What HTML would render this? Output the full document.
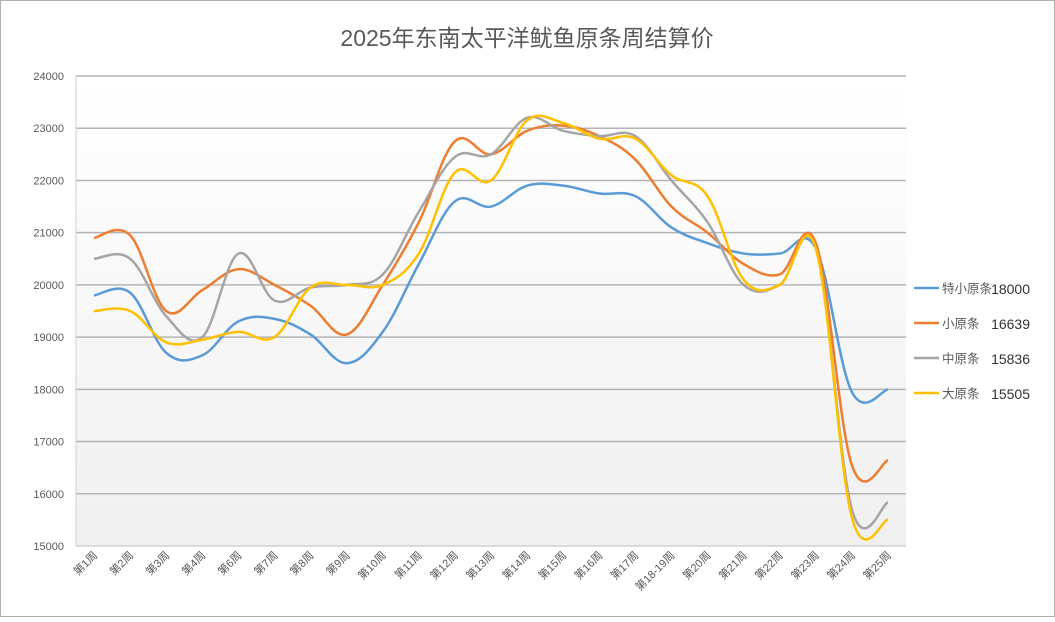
<!DOCTYPE html>
<html><head><meta charset="utf-8"><style>
body{margin:0;background:#fff;}
svg text{font-family:"Liberation Sans","Noto Sans CJK SC",sans-serif;}
</style></head><body>
<svg id="chart" width="1055" height="617" viewBox="0 0 1055 617">
<defs><linearGradient id="bg" x1="0" y1="0" x2="0" y2="1"><stop offset="0" stop-color="#ffffff"/><stop offset="1" stop-color="#f0f0f0"/></linearGradient></defs>
<rect x="0.5" y="0.5" width="1054" height="616" fill="#fff" stroke="#b0b0b0"/>
<text x="527" y="46" text-anchor="middle" font-size="23" fill="#595959">2025年东南太平洋鱿鱼原条周结算价</text>
<rect x="76" y="76" width="830" height="470" fill="url(#bg)"/>
<g id="grid"></g><g id="yt"></g><g id="xt"></g><g id="lines"></g><g id="legend"></g>
</svg>
<script>
const categories=["第1周","第2周","第3周","第4周","第6周","第7周","第8周","第9周","第10周","第11周","第12周","第13周","第14周","第15周","第16周","第17周","第18-19周","第20周","第21周","第22周","第23周","第24周","第25周"];
const seriesNames=["特小原条","小原条","中原条","大原条"];
const lastLabels=["18000","16639","15836","15505"];
const sTexiao=[19800,19850,18700,18650,19300,19350,19050,18500,19100,20400,21600,21500,21900,21900,21750,21700,21100,20800,20600,20600,20700,17950,18000];
const sXiao=[20900,20950,19500,19900,20300,20000,19600,19050,20000,21200,22750,22500,22950,23050,22850,22400,21500,21000,20400,20200,20800,16550,16639];
const sZhong=[20500,20500,19400,19000,20600,19700,19950,20000,20200,21400,22450,22500,23200,22950,22850,22850,22000,21200,20000,20000,20700,15700,15836];
const sDa=[19500,19500,18900,18950,19100,19000,19950,20000,20000,20600,22150,22000,23150,23100,22800,22800,22100,21700,20100,20000,20700,15550,15505];
const yTicks=[15000,16000,17000,18000,19000,20000,21000,22000,23000,24000];
const colors=["#5b9bd5","#ed7d31","#a5a5a5","#ffc000"];
const series=[sTexiao,sXiao,sZhong,sDa];
const NS="http://www.w3.org/2000/svg";
const X0=76,X1=906,Y0=546,Y1=76,ymin=15000,ymax=24000;
const xs=i=>X0+(X1-X0)*(i+0.5)/categories.length;
const ys=v=>Y0-(v-ymin)/(ymax-ymin)*(Y0-Y1);
function mk(t,a,p){const e=document.createElementNS(NS,t);for(const k in a)e.setAttribute(k,a[k]);p.appendChild(e);return e;}
const grid=document.getElementById('grid'),yt=document.getElementById('yt'),xt=document.getElementById('xt'),lines=document.getElementById('lines'),lg=document.getElementById('legend');
yTicks.forEach(v=>{
 const l=mk('line',{x1:X0,x2:X1,y1:ys(v),y2:ys(v),stroke:v===ymin?'#d0d0d0':'#b4b4b4','stroke-width':1.5},grid);
 
 
 const t=mk('text',{x:64,y:ys(v)+4,'text-anchor':'end','font-size':11,fill:'#595959'},yt);
 t.textContent=v;
 
 
});
mk('line',{x1:X0,x2:X0,y1:Y1,y2:Y0,stroke:'#d0d0d0'},grid);
categories.forEach((c,i)=>{
 const x=xs(i)+4,y=556;
 const t=mk('text',{x:x,y:y,'text-anchor':'end','font-size':11,fill:'#595959',transform:`rotate(-45 ${x} ${y})`},xt);
 t.textContent=c;
 
 
});
function path(d){
 const p=d.map((v,i)=>[xs(i),ys(v)]);
 let s=`M${p[0][0]},${p[0][1]}`;const k=0.18;
 for(let i=0;i<p.length-1;i++){
  const p0=p[i-1]||p[i],p1=p[i],p2=p[i+1],p3=p[i+2]||p[i+1];
  s+=` C${p1[0]+(p2[0]-p0[0])*k},${p1[1]+(p2[1]-p0[1])*k} ${p2[0]-(p3[0]-p1[0])*k},${p2[1]-(p3[1]-p1[1])*k} ${p2[0]},${p2[1]}`;
 }
 return s;
}
series.forEach((d,j)=>{
 const e=mk('path',{d:path(d),fill:'none',stroke:colors[j],'stroke-width':2.5,'stroke-linejoin':'round'},lines);
 
 
 const y=288+j*35;
 const l=mk('line',{x1:914,x2:939,y1:y,y2:y,stroke:colors[j],'stroke-width':2.5},lg);
 
 
 const t=mk('text',{x:942,y:y+5,'font-size':12.5,fill:'#595959'},lg);
 t.textContent=seriesNames[j];
 
 
 const n=mk('text',{x:1030,y:y+6,'text-anchor':'end','font-size':14,fill:'#333','font-family':'Liberation Serif, serif'},lg);
 n.textContent=lastLabels[j];
 
 
});
</script>
</body></html>
